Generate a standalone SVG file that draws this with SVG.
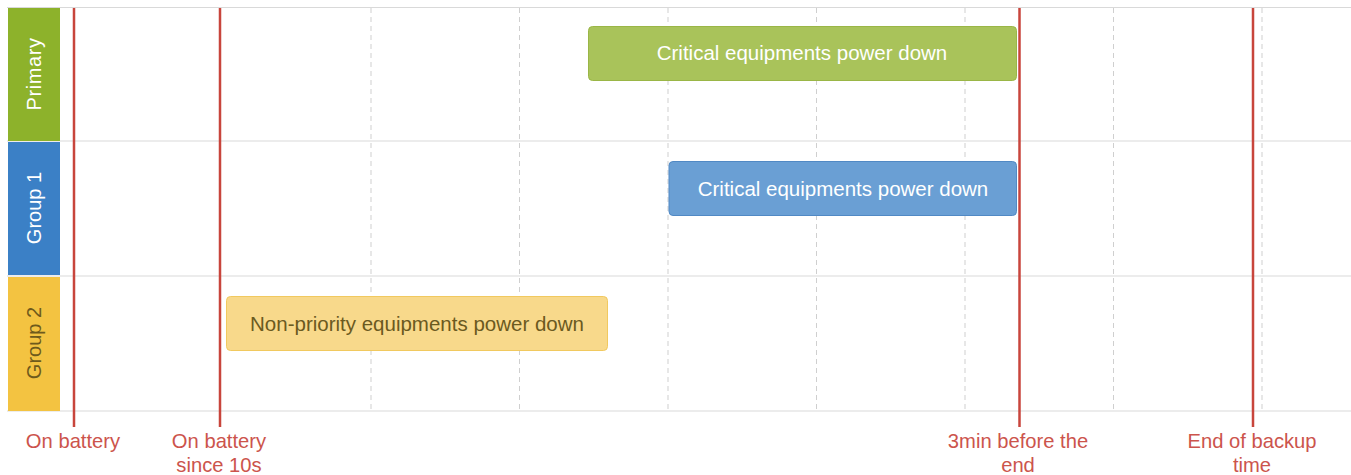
<svg xmlns="http://www.w3.org/2000/svg" width="1351" height="475" viewBox="0 0 1351 475">
<style>
text{font-family:"Liberation Sans",Arial,sans-serif}
.grid{stroke:#d9d9d9;stroke-width:1.2}
.dash{stroke:#cfcfcf;stroke-width:1;stroke-dasharray:5,4}
.marker{stroke:#c8453c;stroke-width:2.5}
.mlabel{fill:#cc544c;font-size:20.2px;text-anchor:middle}
.side{font-size:20px;text-anchor:middle}
.bar{font-size:20.5px;text-anchor:middle}
</style>
<rect width="1351" height="475" fill="#ffffff"/>
<g id="grid">
<line class="grid" x1="7" y1="7.5" x2="1351" y2="7.5"/>
<line class="grid" x1="7" y1="141" x2="1351" y2="141"/>
<line class="grid" x1="7" y1="276" x2="1351" y2="276"/>
<line class="grid" x1="7" y1="411" x2="1351" y2="411"/>
<line class="dash" x1="371" y1="8" x2="371" y2="411"/>
<line class="dash" x1="519.5" y1="8" x2="519.5" y2="411"/>
<line class="dash" x1="668" y1="8" x2="668" y2="411"/>
<line class="dash" x1="816.5" y1="8" x2="816.5" y2="411"/>
<line class="dash" x1="965" y1="8" x2="965" y2="411"/>
<line class="dash" x1="1113.5" y1="8" x2="1113.5" y2="411"/>
<line class="dash" x1="1262" y1="8" x2="1262" y2="411"/>
</g>
<g id="row-primary">
<rect x="8" y="8" width="52" height="133" fill="#8db22b"/>
<text class="side" fill="#ffffff" transform="translate(41,74) rotate(-90)" letter-spacing="0.6">Primary</text>
</g>
<g id="row-group1">
<rect x="8" y="142" width="52" height="133" fill="#3b80c6"/>
<text class="side" fill="#ffffff" transform="translate(41,208) rotate(-90)">Group 1</text>
</g>
<g id="row-group2">
<rect x="8" y="277" width="52" height="134" fill="#f3c341"/>
<text class="side" fill="#6e5a1c" transform="translate(41,343) rotate(-90)">Group 2</text>
</g>
<g id="bar-primary">
<rect x="588.5" y="26.5" width="428" height="54" rx="4" fill="#a9c35a" stroke="#9ab646"/>
<text class="bar" fill="#ffffff" x="802" y="60">Critical equipments power down</text>
</g>
<g id="bar-group1">
<rect x="669" y="161.5" width="347.5" height="54" rx="4" fill="#6a9fd4" stroke="#5189c4"/>
<text class="bar" fill="#ffffff" x="843" y="196">Critical equipments power down</text>
</g>
<g id="bar-group2">
<rect x="226.5" y="296.5" width="381" height="54" rx="4" fill="#f8d98b" stroke="#f1c95f"/>
<text class="bar" fill="#6b5a1f" x="417" y="331">Non-priority equipments power down</text>
</g>
<g id="connectors">
<line class="marker" x1="74" y1="8" x2="74" y2="427"/>
<line class="marker" x1="220" y1="8" x2="220" y2="427"/>
<line class="marker" x1="1019.5" y1="8" x2="1019.5" y2="427"/>
<line class="marker" x1="1253" y1="8" x2="1253" y2="427"/>
</g>
<g id="marker-labels">
<text class="mlabel" x="73" y="448">On battery</text>
<text class="mlabel" x="219" y="448">On battery</text>
<text class="mlabel" x="219" y="472">since 10s</text>
<text class="mlabel" x="1018" y="448">3min before the</text>
<text class="mlabel" x="1018" y="472">end</text>
<text class="mlabel" x="1252" y="448">End of backup</text>
<text class="mlabel" x="1252" y="472">time</text>
</g>
</svg>
